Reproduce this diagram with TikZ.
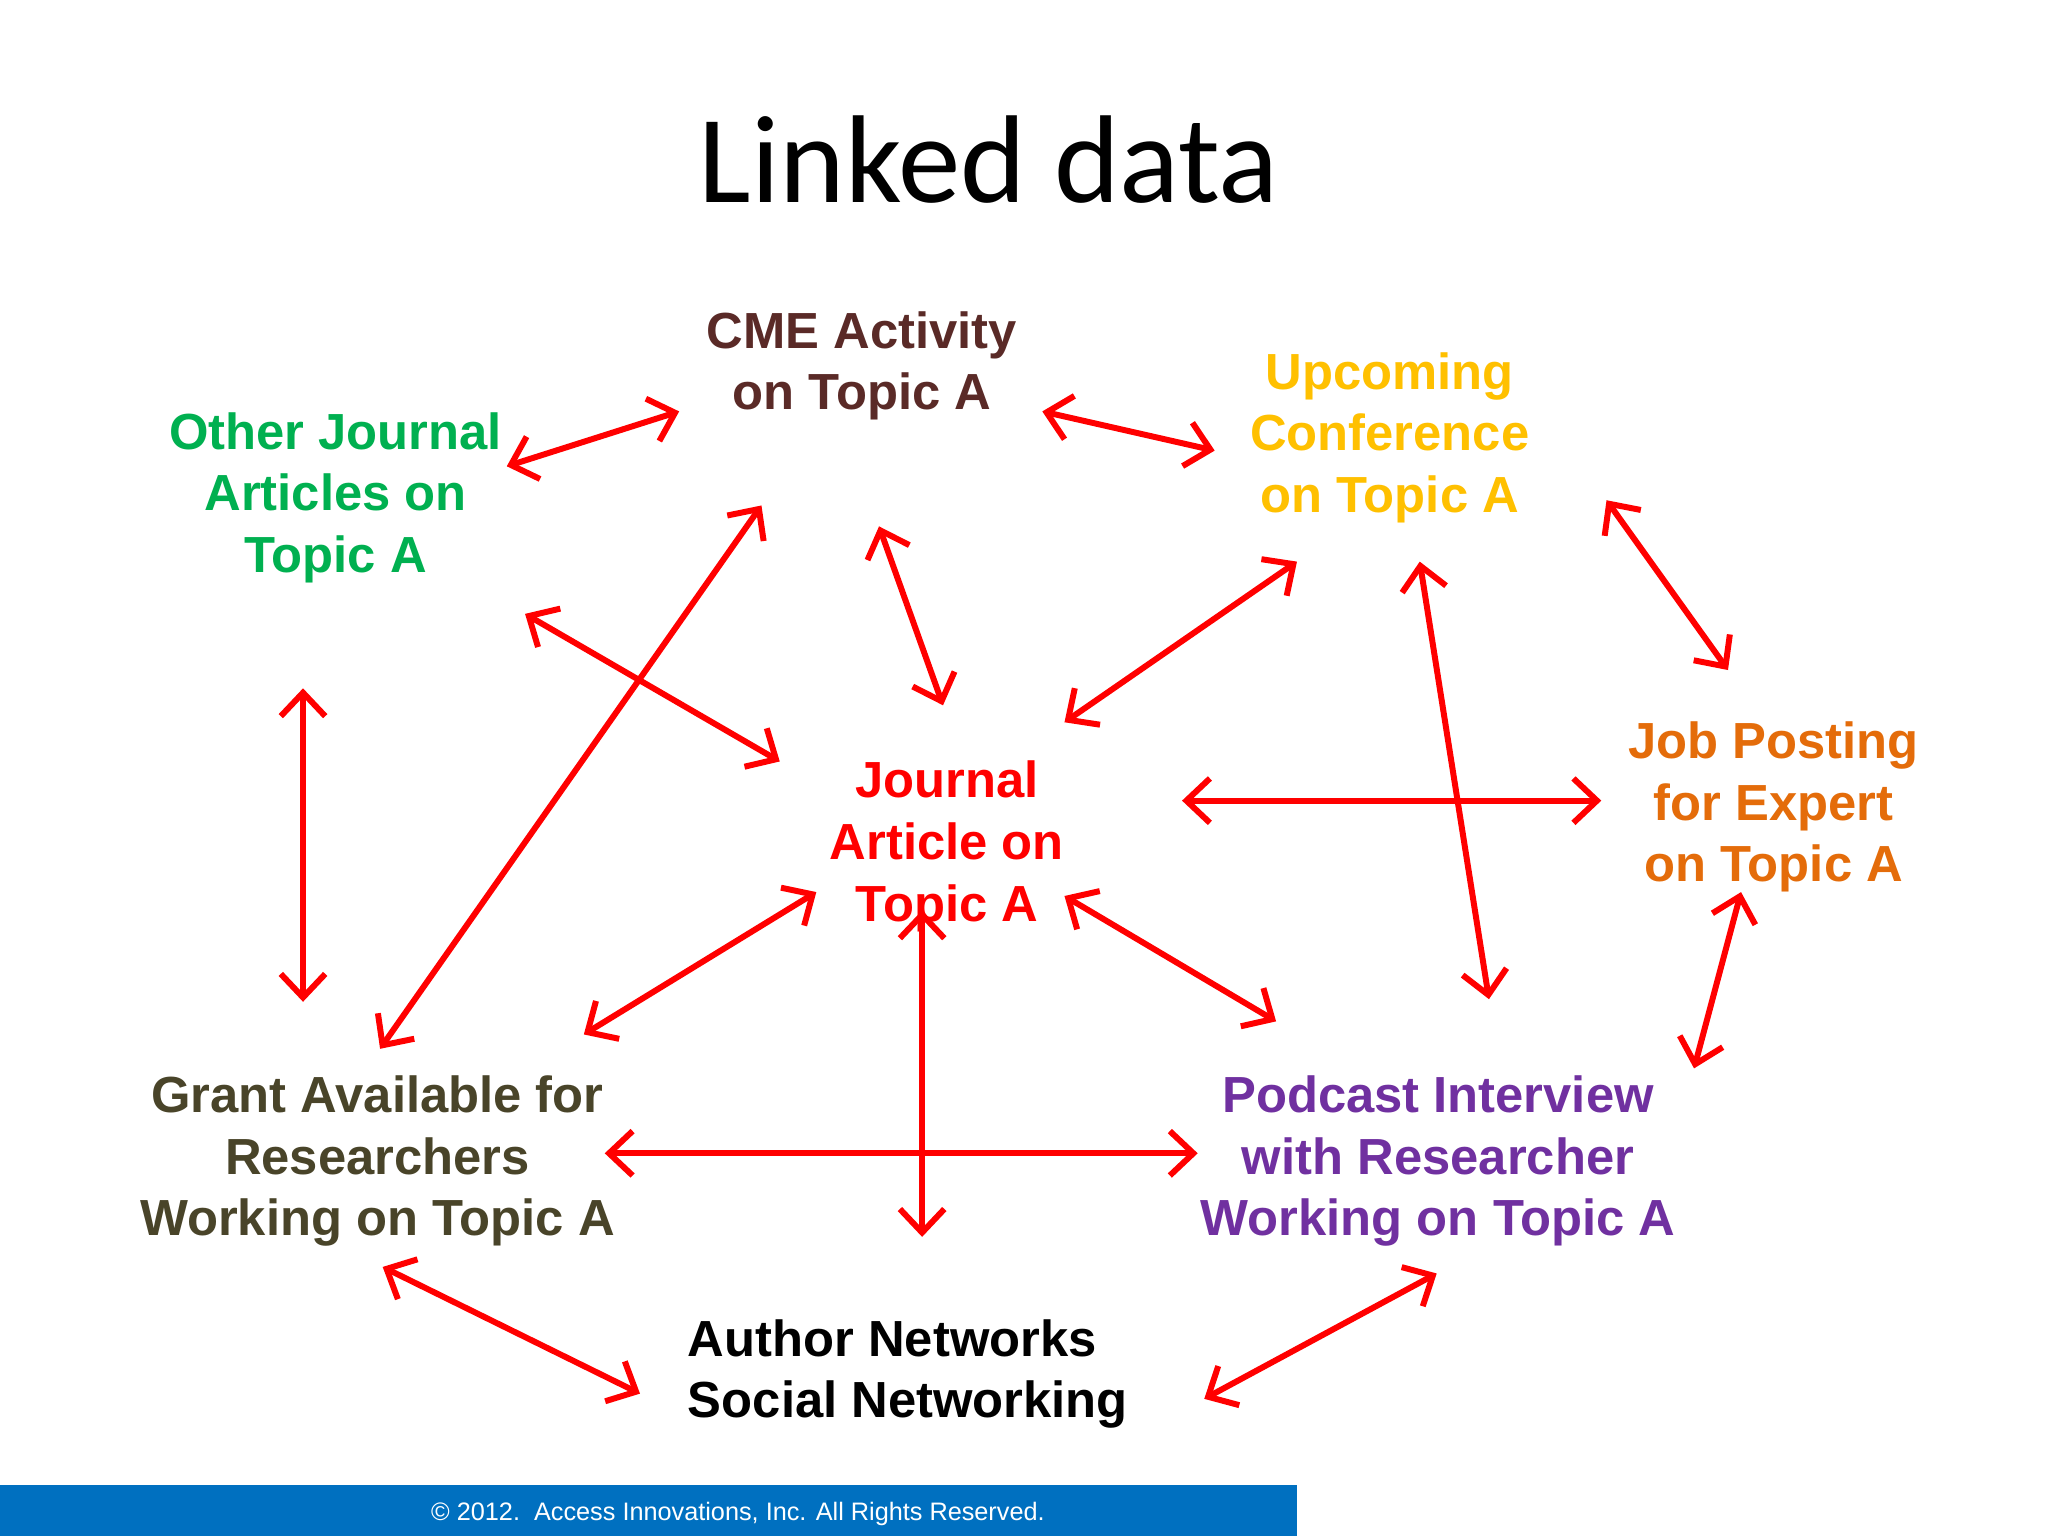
\documentclass[tikz,border=0pt]{standalone}
\usepackage{fontspec}
\setmainfont{Liberation Sans}
\newfontfamily\titlefont{Carlito}
\usetikzlibrary{arrows.meta}
\definecolor{cme}{HTML}{5A2A27}
\definecolor{ojgreen}{HTML}{00B050}
\definecolor{upc}{HTML}{FFC000}
\definecolor{job}{HTML}{E46C0A}
\definecolor{grant}{HTML}{494429}
\definecolor{pod}{HTML}{7030A0}
\definecolor{foot}{HTML}{0070C0}
\begin{document}
\begin{tikzpicture}[x=0.01cm,y=-0.01cm,
  lbl/.style={font=\fontsize{11.05}{13.4}\selectfont\bfseries,align=center,inner sep=0},
  link/.style={draw=red,line width=1.3pt,{Straight Barb[length=1.8mm,width=3.4mm]}-{Straight Barb[length=1.8mm,width=3.4mm]}}]
\useasboundingbox (0,0) rectangle (1568,1176);
\fill[white] (0,0) rectangle (1568,1176);
\fill[foot] (0,1137) rectangle (993,1176);
\node[font=\fontsize{5.5}{6}\selectfont,text=white] (ft) at (565,1159) {© 2012.\ \ Access Innovations, Inc. All Rights Reserved.};
\node[font=\titlefont\fontsize{27.2}{30}\selectfont] (title) at (757,122) {Linked data};
\node[lbl,text=cme] (cme) at (660,280) {CME Activity\\on Topic A};
\node[lbl,text=ojgreen] (oj) at (257,381) {Other Journal\\Articles on\\Topic A};
\node[lbl,text=upc] (upc) at (1064,335) {Upcoming\\Conference\\on Topic A};
\node[lbl,text=red] (ja) at (725,648) {Journal\\Article on\\Topic A};
\node[lbl,text=job] (job) at (1358,618) {Job Posting\\for Expert\\on Topic A};
\node[lbl,text=grant] (gr) at (289,889) {Grant Available for\\Researchers\\Working on Topic A};
\node[lbl,text=pod] (pod) at (1101,889) {Podcast Interview\\with Researcher\\Working on Topic A};
\node[lbl,align=left,anchor=west] (auth) at (526,1052) {Author Networks\\Social Networking};
\foreach \n/\a/\b/\c/\d in {
 1/388/357/520/315, 2/798/315/930/345, 3/583/387/291/803, 4/673/403/722/540,
 5/402/470/597/583, 6/993/430/815/553, 7/1230/383/1323/513, 8/1087/430/1140/765,
 9/232/527/232/767, 10/905/613/1226/613, 11/1333/683/1297/818, 12/625/683/447/792,
 13/706/697/706/947, 14/815/686/977/782, 15/463/883/917/883, 16/293/970/490/1067,
 17/1100/975/922/1071}{
 \coordinate (s\n) at (\a,\b);
 \coordinate (e\n) at (\c,\d);
 \draw[link] (s\n) -- (e\n);
}
\end{tikzpicture}
\end{document}
